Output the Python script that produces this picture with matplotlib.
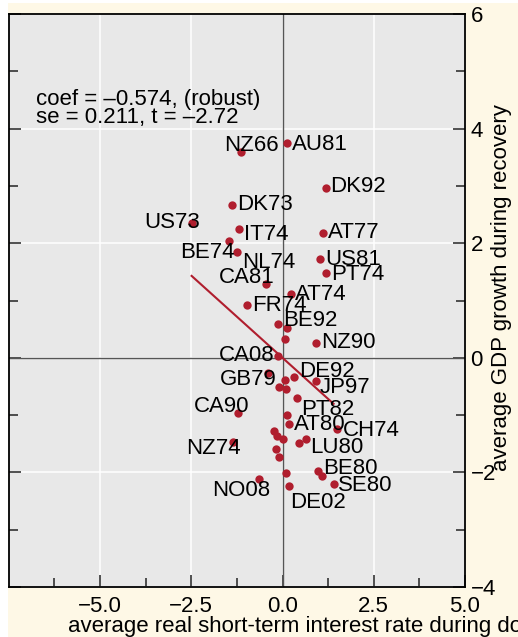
import matplotlib
matplotlib.use("Agg")
import matplotlib.pyplot as plt
from matplotlib.patches import Rectangle

plt.rcParams['font.family'] = ['Liberation Sans', 'DejaVu Sans']

# real short-term rate in downturn vs GDP growth in the recovery, by episode
rate = [-1.137, 0.132, 1.184, -1.375, -2.493, -1.184, 1.118, -1.474, -1.233, 1.027,
        1.184, -0.452, 0.233, -0.981, -0.132, 0.123, 0.082, 0.926, -0.132, -0.389,
        0.315, 0.068, 0.918, -0.088, 0.096, 0.384, -1.227, 0.115, 0.186, 1.493,
        -0.225, -0.137, 0.014, -1.348, 0.452, 0.644, -0.186, -0.088, 0.986, 1.074,
        0.096, -0.636, 0.186, 1.403]
growth = [3.586, 3.743, 2.969, 2.667, 2.358, 2.243, 2.183, 2.038, 1.855, 1.724,
          1.475, 1.288, 1.113, 0.930, 0.585, 0.515, 0.328, 0.264, 0.037, -0.271,
          -0.340, -0.387, -0.405, -0.515, -0.539, -0.707, -0.958, -0.990, -1.164, -1.251,
          -1.283, -1.365, -1.422, -1.464, -1.492, -1.422, -1.595, -1.723, -1.970, -2.059,
          -2.019, -2.120, -2.229, -2.208]
episode = ['NZ66', 'AU81', 'DK92', 'DK73', 'US73', 'IT74', 'AT77', 'BE74', 'NL74', 'US81',
           'PT74', 'CA81', 'AT74', 'FR74', 'BE92', '', '', 'NZ90', 'CA08', 'GB79',
           'DE92', '', 'JP97', '', '', 'PT82', 'CA90', '', 'AT80', 'CH74',
           '', '', '', 'NZ74', '', 'LU80', '', '', 'BE80', '',
           '', 'NO08', 'DE02', 'SE80']

# robust regression result
coef = -0.574
se = 0.211
tstat = -2.72
intercept = 0.0
fit_range = [-2.49, 1.40]

xticks = [-5.0, -2.5, 0.0, 2.5, 5.0]
xtick_labels = ['\u22125.0', '\u22122.5', '0.0', '2.5', '5.0']
yticks = [-4, -2, 0, 2, 4, 6]
ytick_labels = ['\u22124', '\u22122', '0', '2', '4', '6']

# label placement: (dx, dy of cap-centre in pixels, alignment)
label_pos = {
    'NZ66': (-17, 9.3, 'left'), 'AU81': (4.4, 1.6, 'left'), 'DK92': (4.3, 3.4, 'left'),
    'DK73': (5, 3.3, 'left'), 'US73': (8.5, 2.7, 'right'), 'IT74': (4.7, -2.4, 'left'),
    'AT77': (5, 2.7, 'left'), 'BE74': (6.3, -9, 'right'), 'NL74': (4.8, -8.5, 'left'),
    'US81': (5, 2.3, 'left'), 'PT74': (5, 1.6, 'left'), 'CA81': (8.3, 9, 'right'),
    'AT74': (4, 2.3, 'left'), 'FR74': (5, 1.2, 'left'), 'BE92': (5.6, 6, 'left'),
    'NZ90': (4.7, 2.7, 'left'), 'CA08': (-3.4, 2.4, 'right'), 'GB79': (8.4, -3.4, 'right'),
    'DE92': (5.3, 8, 'left'), 'JP97': (4, -4, 'left'), 'PT82': (4.2, -8.4, 'left'),
    'CA90': (11.6, 8.4, 'right'), 'AT80': (4.7, 2.8, 'left'), 'CH74': (5.7, 1.2, 'left'),
    'NZ74': (7.7, -4, 'right'), 'LU80': (4, -5.7, 'left'), 'BE80': (4.8, 4.7, 'left'),
    'NO08': (10.7, -9, 'right'), 'DE02': (0.7, -14.5, 'left'), 'SE80': (4.6, 1.6, 'left'),
}

red = '#B01E2E'
fs = 16
W, H = 518, 637
fig = plt.figure(figsize=(W / 100, H / 100), dpi=100, facecolor='white')
fig.patches.append(Rectangle((8 / W, 0), 1, (H - 3) / H, transform=fig.transFigure,
                             facecolor='#FEF8E6', edgecolor='none', zorder=-10))

ax = fig.add_axes([8.75 / W, 1 - 587 / H, (465 - 8.75) / W, (587 - 14) / H])
ax.set_facecolor('#E8E8E8')
ax.set_xlim(-7.5, 5)
ax.set_ylim(-4, 6)

ax.set_xticks(xticks)
ax.set_xticklabels(xtick_labels)
ax.set_xticks([-6.25, -3.75, -1.25, 1.25, 3.75], minor=True)
ax.set_yticks(yticks)
ax.set_yticklabels(ytick_labels)
ax.set_yticks([-3, -1, 1, 3, 5], minor=True)

ax.tick_params(axis='both', which='both', direction='in', width=1.1, color='#222222',
               labelsize=fs, labelcolor='black')
ax.tick_params(axis='both', which='major', length=8.6)
ax.tick_params(axis='both', which='minor', length=6.5)
ax.tick_params(axis='y', which='both', left=True, right=True, labelleft=False,
               labelright=True, pad=4)
ax.tick_params(axis='x', which='both', bottom=True, top=False, pad=6.5)

ax.grid(True, which='major', color='white', linewidth=1.1)
ax.set_axisbelow(True)
ax.axhline(0, color='#555555', linewidth=1.0, zorder=1)
ax.axvline(0, color='#555555', linewidth=1.0, zorder=1)
for sp in ax.spines.values():
    sp.set_linewidth(1.3)
    sp.set_color('black')

# fitted line
ax.plot(fit_range, [intercept + coef * v for v in fit_range], color=red, linewidth=1.5, zorder=2)
ax.scatter(rate, growth, s=36, color=red, linewidths=0, zorder=3)

for x, y, lab in zip(rate, growth, episode):
    if not lab:
        continue
    dx, dy, ha = label_pos[lab]
    ax.annotate(lab, (x, y), xytext=(dx, dy - 7.9), textcoords='offset pixels',
                ha=ha, va='baseline', fontsize=fs, zorder=4)

fig.text(36 / W, 1 - 105.5 / H, f'coef = \u2013{abs(coef):.3f}, (robust)',
         fontsize=fs, va='baseline', ha='left')
fig.text(36 / W, 1 - 123.5 / H, f'se = {se:.3f}, t = \u2013{abs(tstat):.2f}',
         fontsize=fs, va='baseline', ha='left')

fig.text(68 / W, 1 - 632 / H, 'average real short-term interest rate during downturn',
         fontsize=fs, va='baseline', ha='left')
fig.text(507 / W, 1 - 287.5 / H, 'average GDP growth during recovery', fontsize=fs,
         rotation=90, rotation_mode='anchor', ha='center', va='baseline')

fig.savefig('out.png', dpi=100)
